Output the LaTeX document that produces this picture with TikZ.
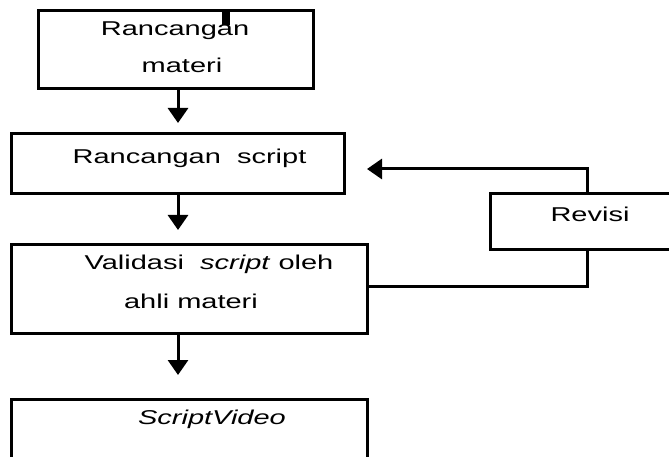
\documentclass[tikz,border=0pt]{standalone}
\usepackage{fontspec}
\setmainfont{Liberation Sans}
\usepackage{graphicx}
\usetikzlibrary{arrows.meta}
\newcommand{\wide}[1]{\scalebox{1.45}[1]{#1}}
\begin{document}
\begin{tikzpicture}[x=1pt,y=-1pt,
  box/.style={draw,line width=3pt,inner sep=0pt,outer sep=0pt},
  lbl/.style={anchor=base,inner sep=0pt,font=\fontsize{20pt}{24pt}\selectfont},
  link/.style={line width=3pt},
  arr/.style={link,-{Triangle[width=20pt,length=15pt]}}]
\useasboundingbox (0,0) rectangle (669,457);
\clip (0,0) rectangle (669,457);

% boxes
\node[box,minimum width=275pt,minimum height=78pt] (b1) at (175.5,50) {};
\node[box,minimum width=333pt,minimum height=60pt] (b2) at (178,164) {};
\node[box,minimum width=356pt,minimum height=89pt] (b3) at (189.5,288.5) {};
\node[box,minimum width=356pt,minimum height=101pt] (b4) at (189.5,449.5) {};
\node[box,minimum width=230pt,minimum height=55pt] (rv) at (605,221.5) {};

% labels
\node[lbl] (t1a) at (175,36) {\wide{Rancangan}};
\node[lbl] (t1b) at (182,72.5) {\wide{materi}};
\node[lbl] (t2) at (189.5,164) {\wide{Rancangan\ \ script}};
\node[lbl] (t3a) at (209,269) {\wide{Validasi \ \textit{script} oleh}};
\node[lbl] (t3b) at (191,308) {\wide{ahli materi}};
\node[lbl] (t4) at (212,424) {\wide{\textit{ScriptVideo}}};
\node[lbl] (t5) at (590,222) {\wide{Revisi}};

% small mark on the top edge of the first box
\draw[line width=8pt] (b1.north -| 226,0) -- ++(0,14);

% arrow ends and bends
\coordinate (a1) at (178,123);
\coordinate (a2) at (178,230);
\coordinate (a3) at (178,375);
\coordinate (fb) at (587,169);
\coordinate (fbtip) at (367,169);

% flow
\draw[arr] (a1 |- b1.south) -- (a1);
\draw[arr] (a2 |- b2.south) -- (a2);
\draw[arr] (a3 |- b3.south) -- (a3);

% revision loop
\draw[link] (b3.east |- 0,286) -| (rv.south -| fb);
\draw[arr] (rv.north -| fb) -- (fb) -- (fbtip);
\end{tikzpicture}
\end{document}
